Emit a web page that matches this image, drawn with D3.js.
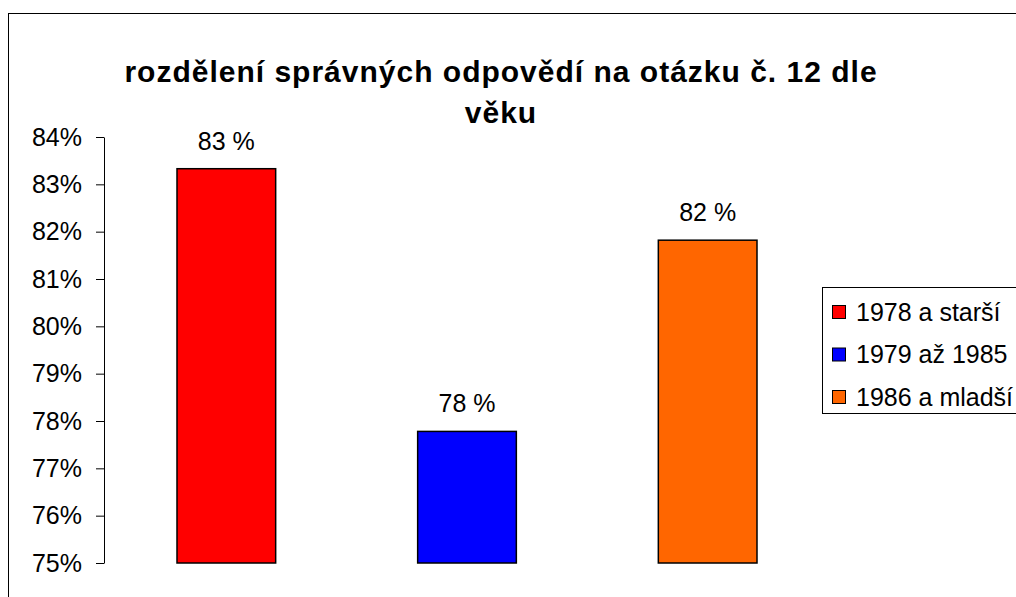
<!DOCTYPE html>
<html>
<head>
<meta charset="utf-8">
<script src="https://cdn.jsdelivr.net/npm/d3@7"></script>
<style>
  body { margin: 0; background: #fff; }
  text { font-family: "Liberation Sans", Arial, sans-serif; fill: #000; }
</style>
</head>
<body>
<div id="chart"></div>
<script>
// data
var categories = ["1978 a starší", "1979 až 1985", "1986 a mladší"];
var values = [0.8333, 0.7778, 0.8182];
var colors = ["#ff0000", "#0000ff", "#ff6600"];
var tickValues = [0.75, 0.76, 0.77, 0.78, 0.79, 0.80, 0.81, 0.82, 0.83, 0.84];
var titleLines = ["rozdělení správných odpovědí na otázku č. 12 dle", "věku"];

var svgWidth = 1016;
var svgHeight = 597;

var svg = d3.select("#chart")
  .append("svg")
  .attr("width", svgWidth)
  .attr("height", svgHeight);

// outer chart border (runs off the right and bottom edges)
svg.append("rect")
  .attr("x", 8.5)
  .attr("y", 13.5)
  .attr("width", 1100)
  .attr("height", 700)
  .attr("fill", "#fff")
  .attr("stroke", "#000")
  .attr("stroke-width", 1);

// title
svg.append("text")
  .attr("text-anchor", "middle")
  .style("font-size", "30px")
  .style("font-weight", "bold")
  .style("letter-spacing", "1px")
  .selectAll("tspan")
  .data(titleLines)
  .enter().append("tspan")
  .attr("x", 501)
  .attr("y", function(d, i) { return 82 + i * 41; })
  .text(function(d) { return d; });

var plotLeft = 104;
var plotTop = 137;
var plotBottom = 563;

var yScale = d3.scaleLinear().domain([0.75, 0.84]).range([plotBottom, plotTop]);
var xScale = d3.scaleBand()
  .domain(categories)
  .range([106, 828])
  .paddingInner(0.59)
  .paddingOuter(0.295);

var leftAxis = d3.axisLeft(yScale)
  .tickValues(tickValues)
  .tickFormat(d3.format(".0%"))
  .tickSizeInner(8)
  .tickSizeOuter(0)
  .tickPadding(14);

var axisG = svg.append("g")
  .attr("transform", `translate(${plotLeft}, 0)`)
  .call(leftAxis);
axisG.selectAll("text")
  .style("font-size", "25px")
  .style("font-family", "'Liberation Sans', Arial, sans-serif")
  .attr("fill", "#000");
axisG.selectAll("line, path").attr("stroke", "#000");

// bars
svg.selectAll("rect.bar")
  .data(values)
  .enter().append("rect")
  .attr("class", "bar")
  .attr("x", function(d, i) { return xScale(categories[i]); })
  .attr("y", function(d) { return yScale(d); })
  .attr("width", xScale.bandwidth())
  .attr("height", function(d) { return plotBottom - yScale(d); })
  .attr("fill", function(d, i) { return colors[i]; })
  .attr("stroke", "#000")
  .attr("stroke-width", 1.5);

// value labels
svg.selectAll("text.val")
  .data(values)
  .enter().append("text")
  .attr("class", "val")
  .attr("text-anchor", "middle")
  .style("font-size", "25px")
  .attr("x", function(d, i) { return xScale(categories[i]) + xScale.bandwidth() / 2; })
  .attr("y", function(d) { return yScale(d) - 19; })
  .text(function(d) { return Math.round(d * 100) + " %"; });

// legend
var legend = svg.append("g").attr("transform", "translate(822, 287)");
legend.append("rect")
  .attr("x", 0.5)
  .attr("y", 0.5)
  .attr("width", 260)
  .attr("height", 126)
  .attr("fill", "#fff")
  .attr("stroke", "#000")
  .attr("stroke-width", 1);

var items = legend.selectAll("g.item")
  .data(categories)
  .enter().append("g")
  .attr("class", "item")
  .attr("transform", function(d, i) { return `translate(0, ${25 + i * 42.5})`; });

items.append("rect")
  .attr("x", 10.5)
  .attr("y", -6.5)
  .attr("width", 13)
  .attr("height", 13)
  .attr("fill", function(d, i) { return colors[i]; })
  .attr("stroke", "#000")
  .attr("stroke-width", 1);

items.append("text")
  .attr("x", 34)
  .attr("y", 0)
  .attr("dy", "0.35em")
  .style("font-size", "25px")
  .text(function(d) { return d; });
</script>
</body>
</html>
